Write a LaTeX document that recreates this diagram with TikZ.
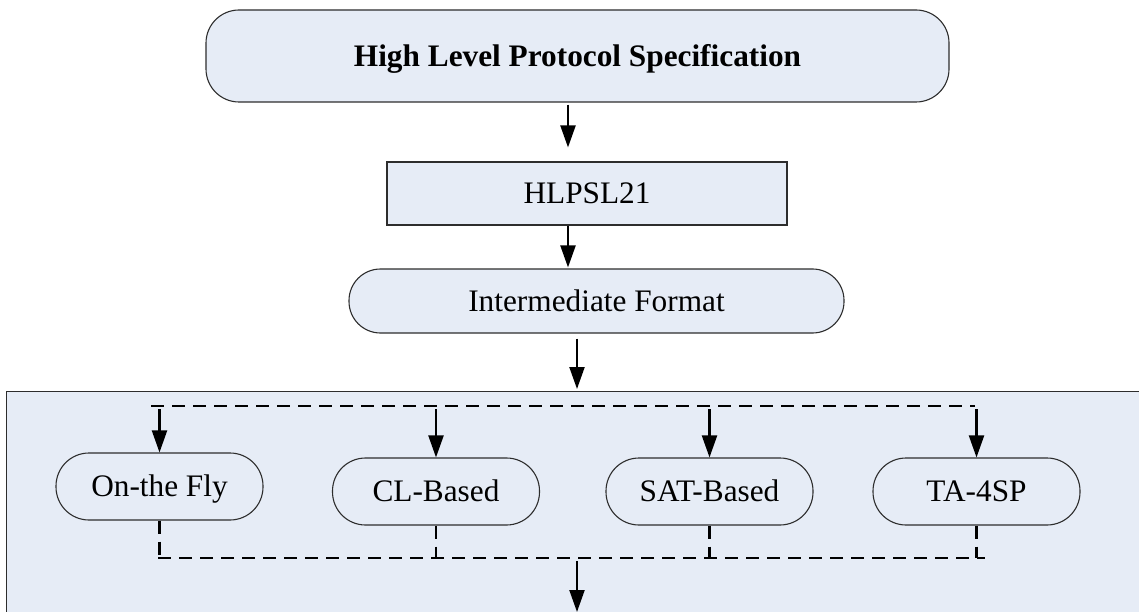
\documentclass[tikz,border=0pt]{standalone}
\usepackage{fontspec}
\setmainfont{Liberation Serif}
\usetikzlibrary{arrows.meta}
\definecolor{boxfill}{RGB}{230,236,246}
\definecolor{boxline}{RGB}{45,45,45}
\begin{document}
\begin{tikzpicture}[x=1pt,y=-1pt,
  every node/.style={font=\fontsize{31.3}{36}\selectfont},
  base/.style={draw=boxline, line width=1.1pt, fill=boxfill, inner sep=0pt,
               text height=20.5pt, text depth=0pt},
  pill/.style={base, minimum width=207pt, minimum height=67pt, rounded corners=33pt},
  flow/.style={line width=2.1pt, -{Triangle[width=15pt,length=22pt]}},
  branch/.style={line width=2.1pt, dash pattern=on 13pt off 8pt},
]
\useasboundingbox (0,0) rectangle (1139,612);
\clip (0,0) rectangle (1139,612);

% the back-end block, running off the right and lower edges
\node[draw=boxline, line width=1.1pt, fill=boxfill, inner sep=0pt,
      minimum width=1200pt, minimum height=300pt, anchor=north west]
      (suite) at (5.5,391) {};

% main chain
\node[base, minimum width=743pt, minimum height=92pt, rounded corners=33pt,
      font=\fontsize{31.3}{36}\selectfont\bfseries]
      (spec) at (577.5,56) {High Level Protocol Specification};
\node[base, minimum width=400pt, minimum height=63pt] (hl) at (587,193.5) {HLPSL21};
\node[base, minimum width=495pt, minimum height=64pt, rounded corners=31.5pt]
      (inter) at (596.5,301) {Intermediate Format};

% back-ends
\node[pill] (fly) at (159.5,486.5) {On-the Fly};
\node[pill] (cl)  at (436,491.5)   {CL-Based};
\node[pill] (sat) at (709.5,491.5) {SAT-Based};
\node[pill] (ta)  at (976.5,491.5) {TA-4SP};

% columns of the main arrows
\coordinate (colA) at (568,0);
\coordinate (colB) at (577,0);

\draw[flow] ([yshift=-2pt]spec.south -| colA) -- ([yshift=14pt]hl.north -| colA);
\draw[flow] (hl.south -| colA) -- ([yshift=1pt]inter.north -| colA);
\draw[flow] ([yshift=-5pt]inter.south -| colB) -- ([yshift=2pt]suite.north -| colB);

% fan-out to the back-ends
\coordinate (splitL) at (151,406);
\coordinate (splitR) at (975,406);
\draw[branch] (splitL) -- (splitR);
\foreach \b in {fly,cl,sat,ta}
  \draw[flow] ([yshift=-3pt]\b.north |- splitL) -- (\b.north);

% fan-in of the results
\coordinate (joinL) at (158,558);
\coordinate (joinR) at (985,558);
\draw[branch] (joinL) -- (joinR);
\foreach \b in {fly,cl,sat,ta}
  \draw[branch] (\b.south) -- (\b.south |- joinL);

\coordinate (out) at (577,612);
\draw[flow] ([yshift=-3pt]joinL -| colB) -- (out);
\end{tikzpicture}
\end{document}
